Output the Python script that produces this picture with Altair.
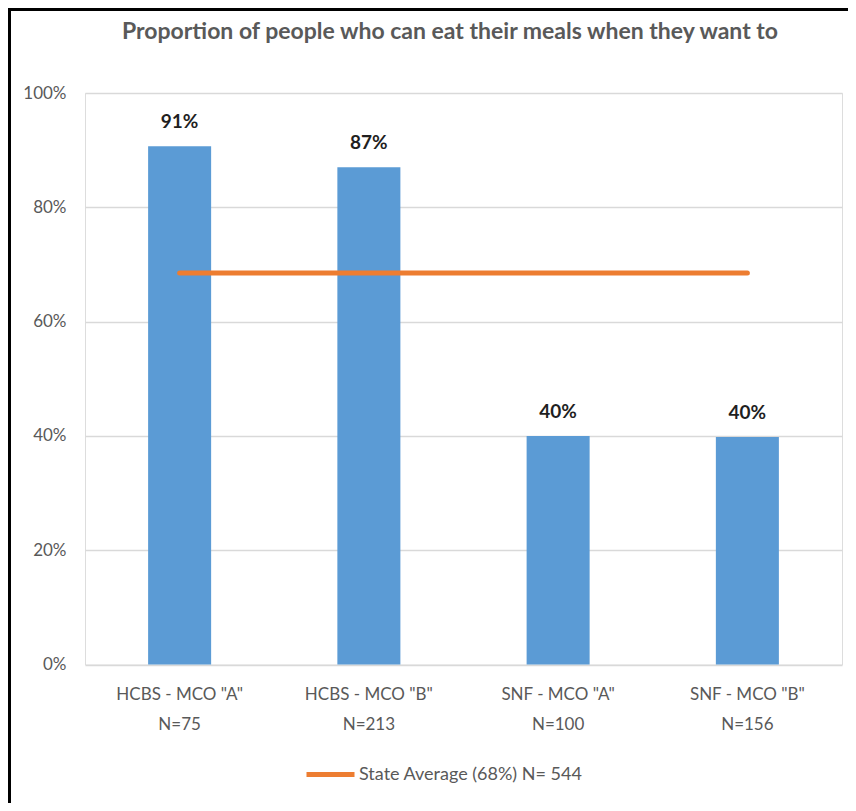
import altair as alt
import pandas as pd

categories = ['HCBS - MCO "A"', 'HCBS - MCO "B"', 'SNF - MCO "A"', 'SNF - MCO "B"']
sample_sizes = ["N=75", "N=213", "N=100", "N=156"]
values = [0.907, 0.870, 0.400, 0.398]
value_labels = ["91%", "87%", "40%", "40%"]
state_average = 0.685
state_label = "State Average (68%) N= 544"
y_ticks = [0, 0.2, 0.4, 0.6, 0.8, 1.0]
title_text = "Proportion of people who can eat their meals when they want to"

FONT = "Lato"
GRAY = "#595959"

df = pd.DataFrame({
    "cat": [c + "\n" + n for c, n in zip(categories, sample_sizes)],
    "value": values,
    "label": value_labels,
    "avg": [state_average] * len(categories),
    "series": [state_label] * len(categories),
})

x_enc = alt.X(
    "cat:N", sort=None,
    scale=alt.Scale(paddingInner=0.667, paddingOuter=0.3335),
    axis=alt.Axis(
        title=None, labelAngle=0, ticks=False, domain=False,
        labelExpr="split(datum.label, '\\n')",
        labelFont=FONT, labelFontSize=17, labelColor=GRAY,
        labelPadding=22, labelLineHeight=30,
    ),
)
y_scale = alt.Scale(domain=[0, 1])
y_axis = alt.Axis(
    title=None, values=y_ticks, format=".0%", ticks=False, domain=False,
    labelFont=FONT, labelFontSize=17, labelColor=GRAY, labelPadding=19,
    gridColor="#D9D9D9", gridWidth=1.5,
)

base = alt.Chart(df)

bars = base.mark_bar(color="#5B9BD5").encode(
    x=x_enc,
    y=alt.Y("value:Q", scale=y_scale, axis=y_axis),
)

texts = base.mark_text(
    font=FONT, fontSize=19, fontWeight="bold", color="#1F1F1F",
    baseline="alphabetic", dy=-18,
).encode(x=x_enc, y=alt.Y("value:Q", scale=y_scale), text="label:N")

line = base.mark_line(strokeWidth=5, strokeCap="round").encode(
    x=x_enc,
    y=alt.Y("avg:Q", scale=y_scale),
    color=alt.Color(
        "series:N",
        scale=alt.Scale(range=["#ED7D31"]),
        legend=alt.Legend(
            title=None, orient="none", legendX=219, legendY=655,
            symbolType="stroke", symbolStrokeWidth=5, symbolSize=2304,
            labelFont=FONT, labelFontSize=18, labelColor=GRAY, labelOffset=2,
            labelLimit=0,
        ),
    ),
)

single = alt.Data(values=[{"t": title_text}])
title_mark = alt.Chart(single).mark_text(
    font=FONT, fontSize=23, fontWeight="bold", color=GRAY,
    align="center", baseline="alphabetic",
).encode(x=alt.value(365), y=alt.value(-54), text="t:N")

left_border = alt.Chart(single).mark_rule(color="black", strokeWidth=3).encode(
    x=alt.value(-75.5), y=alt.value(-85), y2=alt.value(710)
)
top_border = alt.Chart(single).mark_rule(color="black", strokeWidth=3).encode(
    x=alt.value(-77), x2=alt.value(763), y=alt.value(-83.5)
)

chart = alt.layer(bars, line, texts, title_mark, left_border, top_border).properties(
    width=757, height=571.5,
    autosize=alt.AutoSizeParams(type="none"),
    padding={"left": 77, "top": 85, "right": 6, "bottom": 138},
).configure_view(strokeWidth=0, stroke="transparent").configure(background="white")

chart.save("out.html", embed_options={"renderer": "svg", "actions": False})
